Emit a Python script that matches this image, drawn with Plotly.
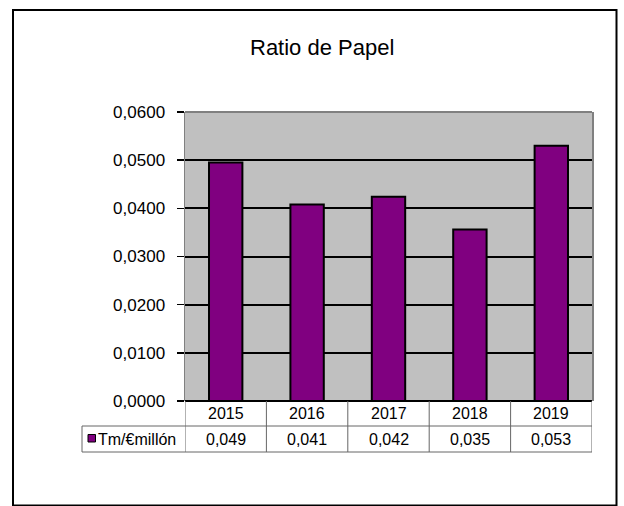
import plotly.graph_objects as go

# ---- data ----
years = ["2015", "2016", "2017", "2018", "2019"]
ratio_values = [0.0495, 0.0408, 0.0424, 0.0356, 0.0530]
table_labels = ["0,049", "0,041", "0,042", "0,035", "0,053"]
series_name = "Tm/€millón"
chart_title = "Ratio de Papel"
y_ticks = [0.0, 0.01, 0.02, 0.03, 0.04, 0.05, 0.06]

W, H = 624, 506
FONT = "Liberation Sans, Arial, sans-serif"
PURPLE = "#800080"
GRAY = "#808080"
TABLE = "#666666"


def px(x):
    return x / W


def py(y):
    return 1 - y / H


PLOT_L, PLOT_R, PLOT_T, PLOT_B = 185, 592, 112, 401
ROW1_B, ROW2_B = 426, 452
LEG_L = 82

fig = go.Figure()
fig.add_trace(go.Bar(
    x=list(range(len(years))),
    y=ratio_values,
    width=0.41,
    marker=dict(color=PURPLE, line=dict(color="black", width=2)),
    name=series_name,
    showlegend=False,
    hoverinfo="skip",
))

shapes = []
annotations = []

# outer chart border
shapes.append(dict(type="rect", xref="paper", yref="paper",
                   x0=px(13), x1=px(616.5), y0=py(505.5), y1=py(10),
                   line=dict(color="black", width=2), layer="above"))
# plot area top border (gray)
shapes.append(dict(type="line", xref="x domain", yref="y domain",
                   x0=0, x1=1, y0=1, y1=1,
                   line=dict(color=GRAY, width=2), layer="above"))

# data table lines
n = len(years)
for i in range(n + 1):
    shapes.append(dict(type="line", xref="x", yref="paper",
                       x0=i - 0.5, x1=i - 0.5, y0=py(ROW2_B), y1=py(PLOT_B),
                       line=dict(color=TABLE, width=1), layer="above"))
shapes.append(dict(type="line", xref="paper", yref="paper",
                   x0=px(LEG_L), x1=px(LEG_L), y0=py(ROW2_B), y1=py(ROW1_B),
                   line=dict(color=TABLE, width=1)))
for yy in (ROW1_B, ROW2_B):
    shapes.append(dict(type="line", xref="paper", yref="paper",
                       x0=px(LEG_L), x1=px(PLOT_R), y0=py(yy), y1=py(yy),
                       line=dict(color=TABLE, width=1)))

# legend key in table
shapes.append(dict(type="rect", xref="paper", yref="paper",
                   x0=px(88), x1=px(95.5), y0=py(442), y1=py(434.5),
                   fillcolor=PURPLE, line=dict(color="black", width=1)))
annotations.append(dict(text=series_name, xref="paper", yref="paper",
                        x=px(96), y=py(439), xanchor="left", yanchor="middle",
                        showarrow=False, font=dict(size=16, color="black", family=FONT)))

for i, (yr, lab) in enumerate(zip(years, table_labels)):
    annotations.append(dict(text=yr, xref="x", yref="paper", x=i, y=py(413.5),
                            xanchor="center", yanchor="middle", showarrow=False,
                            font=dict(size=16, color="black", family=FONT)))
    annotations.append(dict(text=lab, xref="x", yref="paper", x=i, y=py(439),
                            xanchor="center", yanchor="middle", showarrow=False,
                            font=dict(size=16, color="black", family=FONT)))

# title
annotations.append(dict(text=chart_title, xref="paper", yref="paper",
                        x=px(322), y=py(47), xanchor="center", yanchor="middle",
                        showarrow=False, font=dict(size=22, color="black", family=FONT)))

fig.update_layout(
    width=W, height=H,
    margin=dict(l=0, r=0, t=0, b=0, pad=0, autoexpand=False),
    paper_bgcolor="white",
    plot_bgcolor="#C0C0C0",
    separators=",.",
    font=dict(family=FONT, color="black"),
    showlegend=False,
    bargap=0,
    shapes=shapes,
    annotations=annotations,
    xaxis=dict(domain=[px(PLOT_L), px(PLOT_R)], range=[-0.5, n - 0.5],
               showticklabels=False, showgrid=False, zeroline=False,
               showline=False, ticks="", fixedrange=True, automargin=False),
    yaxis=dict(domain=[py(PLOT_B), py(PLOT_T)], range=[0, 0.06],
               tickvals=y_ticks, tickformat=".4f",
               tickfont=dict(size=17, color="black", family=FONT),
               ticks="outside", ticklen=7, tickwidth=1.5, tickcolor="black",
               ticklabelstandoff=8,
               showgrid=True, gridcolor="black", gridwidth=2,
               zeroline=True, zerolinecolor="black", zerolinewidth=2,
               showline=True, linecolor=GRAY, linewidth=1.5, mirror=True,
               fixedrange=True, automargin=False),
)

fig.write_html(
    "out.html",
    config={"displayModeBar": False, "staticPlot": True},
    post_script="document.body.style.margin='0';document.body.style.overflow='hidden';",
)
